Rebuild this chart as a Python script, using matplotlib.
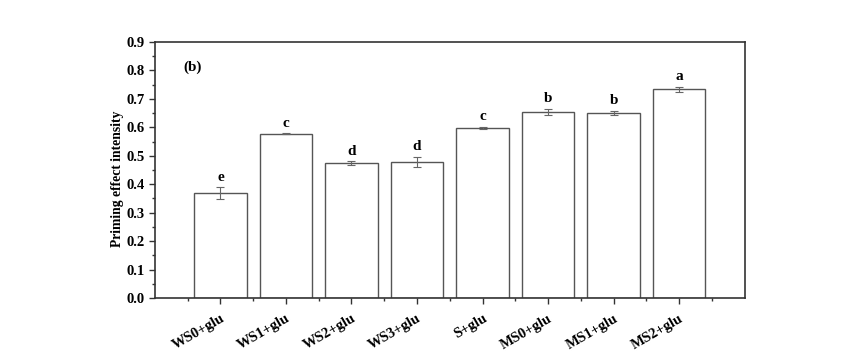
import matplotlib
matplotlib.use("Agg")
import matplotlib.pyplot as plt
from matplotlib.ticker import MultipleLocator, FixedLocator

categories = ["WS0+glu", "WS1+glu", "WS2+glu", "WS3+glu", "S+glu", "MS0+glu", "MS1+glu", "MS2+glu"]
values = [0.368, 0.577, 0.474, 0.478, 0.598, 0.654, 0.651, 0.734]
errors = [0.021, 0.002, 0.007, 0.018, 0.004, 0.011, 0.007, 0.009]
letters = ["e", "c", "d", "d", "c", "b", "b", "a"]

plt.rcParams['font.family'] = ['Liberation Serif', 'DejaVu Serif']
plt.rcParams['font.weight'] = 'bold'

fig = plt.figure(figsize=(8.65, 3.58), dpi=100)
ax = fig.add_axes([0.179, 0.1676, 0.682, 0.7151])

x = list(range(1, len(categories) + 1))
ax.bar(x, values, width=0.8, color='white', edgecolor='#555555', linewidth=1.0, zorder=2)
ax.errorbar(x, values, yerr=errors, fmt='none', ecolor='#666666', elinewidth=0.8,
            capsize=3, capthick=0.8, zorder=3)
for xi, v, e, l in zip(x, values, errors, letters):
    ax.text(xi, v + e + 0.012, l, ha='center', va='bottom', fontsize=11, fontweight='bold')

ax.set_xlim(0, 9)
ax.set_ylim(0, 0.9)
ax.yaxis.set_major_locator(MultipleLocator(0.1))
ax.yaxis.set_minor_locator(MultipleLocator(0.05))
ax.xaxis.set_major_locator(FixedLocator(x))
ax.xaxis.set_minor_locator(FixedLocator([i + 0.5 for i in range(0, 9)]))
ax.set_xticklabels(categories, rotation=30, ha='right', rotation_mode='anchor',
                   fontsize=10.5, fontweight='bold')
ax.set_yticks([i / 10 for i in range(10)])
ax.set_yticklabels([f"{i/10:.1f}" for i in range(10)], fontsize=10.5, fontweight='bold')
ax.tick_params(axis='both', which='major', direction='out', length=4, width=1, color='#333333')
ax.tick_params(axis='both', which='minor', direction='out', length=2.5, width=1, color='#333333')
ax.tick_params(axis='x', which='major', pad=6)
for s in ax.spines.values():
    s.set_color('#333333')
    s.set_linewidth(1.2)

ax.set_ylabel("Priming effect intensity", fontsize=9.8, fontweight='bold', va='center')
ax.yaxis.set_label_coords(-0.063, 0.465)
ax.text(0.43, 0.81, "(b)", fontsize=11, fontweight='bold', ha='left', va='center')

fig.savefig("out.png", dpi=100)
